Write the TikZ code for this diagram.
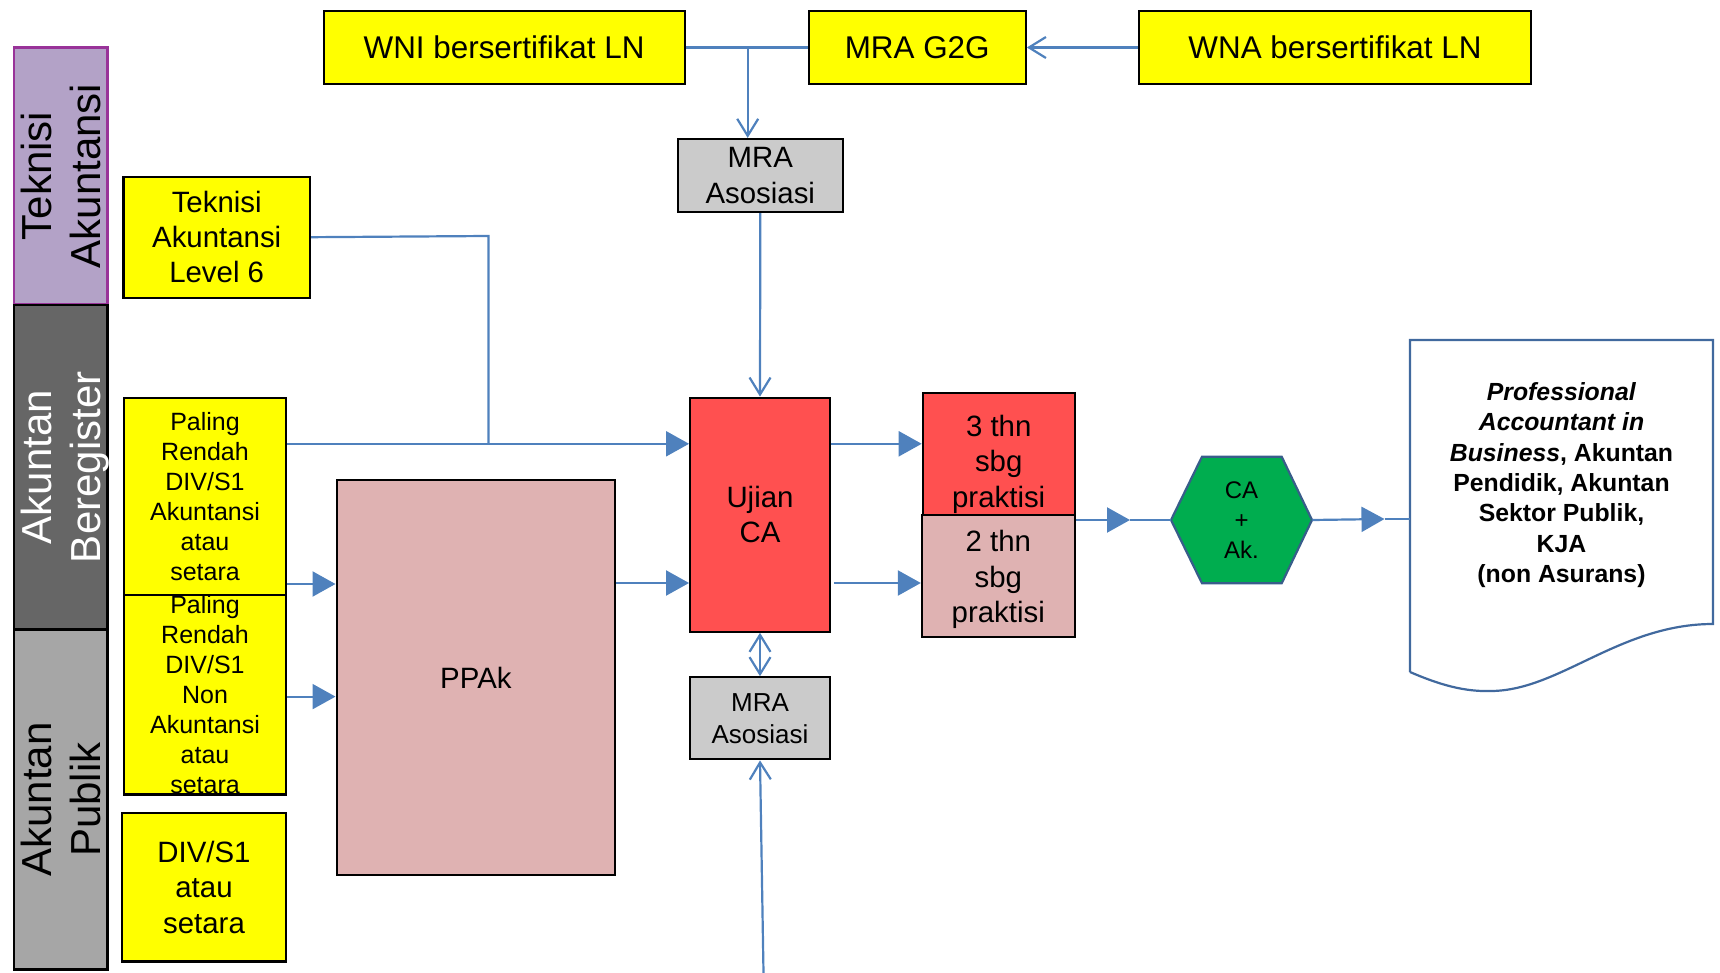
\documentclass[tikz,border=0pt]{standalone}
\usepackage{fontspec}
\setmainfont{Liberation Sans}
\usetikzlibrary{arrows.meta}
\definecolor{yel}{HTML}{FFFF00}
\definecolor{bandA}{HTML}{B3A2C7}
\definecolor{bandAline}{HTML}{993399}
\definecolor{bandB}{HTML}{666666}
\definecolor{bandC}{HTML}{A6A6A6}
\definecolor{redbox}{HTML}{FF5050}
\definecolor{pinkbox}{HTML}{DFB2B2}
\definecolor{graybox}{HTML}{CBCBCB}
\definecolor{hexgreen}{HTML}{00AD4F}
\definecolor{hexline}{HTML}{385D8A}
\definecolor{conn}{HTML}{4F81BD}
\definecolor{docline}{HTML}{41699E}
\newcommand\fntTop{\fontsize{15.7}{18}\selectfont}
\newcommand\fntMid{\fontsize{14.7}{17.6}\selectfont}
\newcommand\fntMRAb{\fontsize{13}{16}\selectfont}
\newcommand\fntPR{\fontsize{12.5}{15}\selectfont}
\newcommand\fntBand{\fontsize{21}{24.2}\selectfont}
\newcommand\fntHex{\fontsize{12}{15}\selectfont}
\newcommand\fntDoc{\fontsize{12.4}{15.2}\selectfont}
\begin{document}
\begin{tikzpicture}[x=0.5pt,y=-0.5pt,
  box/.style={draw=black, line width=1.1pt, inner sep=0pt, align=center},
  yelbox/.style={box, fill=yel},
  bandbox/.style={box, line width=1.3pt, rotate=90, minimum height=46.8pt, font=\fntBand},
  conn/.style={draw=conn, line width=1.1pt},
  farrow/.style={conn, -{Triangle[length=11.5pt,width=12.5pt]}},
  oarrow/.style={conn, -{Straight Barb[length=8.5pt,width=10.5pt]}},
  darrow/.style={conn, {Straight Barb[length=8.5pt,width=10.5pt]}-{Straight Barb[length=8.5pt,width=10.5pt]}}]
\useasboundingbox (0,0) rectangle (1720,973);

% side bands
\node[bandbox, fill=bandA, draw=bandAline, minimum width=128.15pt] (b1) at (60.8,175.9) {Teknisi\\Akuntansi};
\node[bandbox, fill=bandB, text=white, text depth=0pt, minimum width=162.3pt] (b2) at (60.8,467.3) {Akuntan\\Beregister};
\node[bandbox, fill=bandC, minimum width=169.95pt] (b3) at (60.8,799.6) {Akuntan\\Publik};

% top row
\node[yelbox, font=\fntTop, minimum width=180.5pt, minimum height=36.5pt] (wni) at (504.1,47.5) {WNI bersertifikat LN};
\node[yelbox, font=\fntTop, minimum width=108.55pt, minimum height=36.5pt] (g2g) at (917.2,47.5) {MRA G2G};
\node[yelbox, font=\fntTop, minimum width=196.35pt, minimum height=36.5pt] (wna) at (1335,47.5) {WNA bersertifikat LN};

\node[box, fill=graybox, font=\fntMid, minimum width=82.3pt, minimum height=36.5pt] (mratop) at (760.3,175.5) {MRA\\Asosiasi};

% left column
\node[yelbox, font=\fntMid, minimum width=93.3pt, minimum height=60.5pt] (l6) at (216.7,237.2) {Teknisi\\Akuntansi\\Level 6};
\node[yelbox, font=\fntPR, minimum width=81pt, minimum height=98.7pt] (pr1) at (205,496.6) {Paling\\Rendah\\DIV/S1\\Akuntansi\\atau\\setara};
\node[yelbox, font=\fntPR, minimum width=81pt, minimum height=99.55pt] (pr2) at (205,694.9) {Paling\\Rendah\\DIV/S1\\Non\\Akuntansi\\atau\\setara};
\node[yelbox, font=\fntMid, minimum width=82.05pt, minimum height=74.05pt] (div) at (204,887.4) {DIV/S1\\atau\\setara};

\node[box, fill=pinkbox, font=\fntMid, minimum width=139.3pt, minimum height=197.4pt] (ppak) at (475.9,677.7) {PPAk};

% centre
\node[box, fill=redbox, font=\fntMid, minimum width=69.85pt, minimum height=117pt] (ujian) at (760,514.7) {Ujian\\CA};
\node[box, fill=redbox, font=\fntMid, minimum width=75.9pt, minimum height=61.15pt] (thn3) at (998.7,454.2) {\rule{0pt}{20.7pt}3 thn\\sbg\\praktisi};
\node[box, fill=pinkbox, font=\fntMid, minimum width=76.35pt, minimum height=60.7pt] (thn2) at (998.3,576) {\rule{0pt}{14.2pt}2 thn\\sbg\\praktisi};
\node[box, fill=graybox, font=\fntMRAb, minimum width=70pt, minimum height=41pt] (mrabot) at (760,718.3) {MRA\\Asosiasi};

% hexagon
\draw[fill=hexgreen, draw=hexline, line width=1.1pt] (1171,520) -- (1202,456.7) -- (1281.7,456.7) -- (1312,520) -- (1281.7,583.3) -- (1202,583.3) -- cycle;
\node[inner sep=0pt, align=center, font=\fntHex, minimum width=70.5pt, minimum height=63.3pt] (hex) at (1241.5,520) {CA\\+\\Ak.};

% document
\draw[draw=docline, fill=white, line width=1.1pt] (1410,672) -- (1410,340) -- (1713,340) -- (1713,624)
  .. controls (1620,624) and (1560,690) .. (1492,691)
  .. controls (1465,692) and (1440,685) .. (1410,672);
\node[inner sep=0pt, align=center, font=\fntDoc\bfseries, minimum width=151.5pt, minimum height=142pt] (doc) at (1561.5,485)
  {\textit{Professional}\\\textit{Accountant in}\\\textit{Business}, Akuntan\\Pendidik, Akuntan\\Sektor Publik,\\KJA\\(non Asurans)};

% helper coordinates
\coordinate (j) at (747.7,47.5);
\coordinate (k) at (488.5,236);
\coordinate (r1) at (0,443.8);
\coordinate (r2) at (0,584);
\coordinate (r3) at (0,696.6);
\coordinate (r4) at (0,583);
\coordinate (m1) at (1130,520);
\coordinate (m2) at (1384.5,519);
\coordinate (bot) at (763.5,973);

% connectors
\draw[conn] (wni.east) -- (g2g.west);
\draw[oarrow] (j) -- (j |- mratop.north);
\draw[oarrow] (wna.west) -- (g2g.east);
\draw[oarrow] (mratop.south) -- (ujian.north);
\draw[conn] (l6.east) -- (k) -- (k |- r1);
\draw[farrow] (pr1.east |- r1) -- (ujian.west |- r1);
\draw[farrow] (pr1.east |- r2) -- (ppak.west |- r2);
\draw[farrow] (pr2.east |- r3) -- (ppak.west |- r3);
\draw[farrow] (ppak.east |- r4) -- (ujian.west |- r4);
\draw[farrow] (ujian.east |- r1) -- (thn3.west |- r1);
\draw[farrow] ([xshift=1.5pt]ujian.east |- r4) -- (thn2.west |- r4);
\draw[farrow] (thn2.north east |- hex.west) -- (m1);
\draw[conn] (m1) -- (hex.west);
\draw[farrow] (hex.east) -- (m2);
\draw[conn] (m2) -- (doc.west |- m2);
\draw[darrow] (ujian.south) -- (mrabot.north);
\draw[oarrow] (bot) -- (mrabot.south);
\end{tikzpicture}
\end{document}
